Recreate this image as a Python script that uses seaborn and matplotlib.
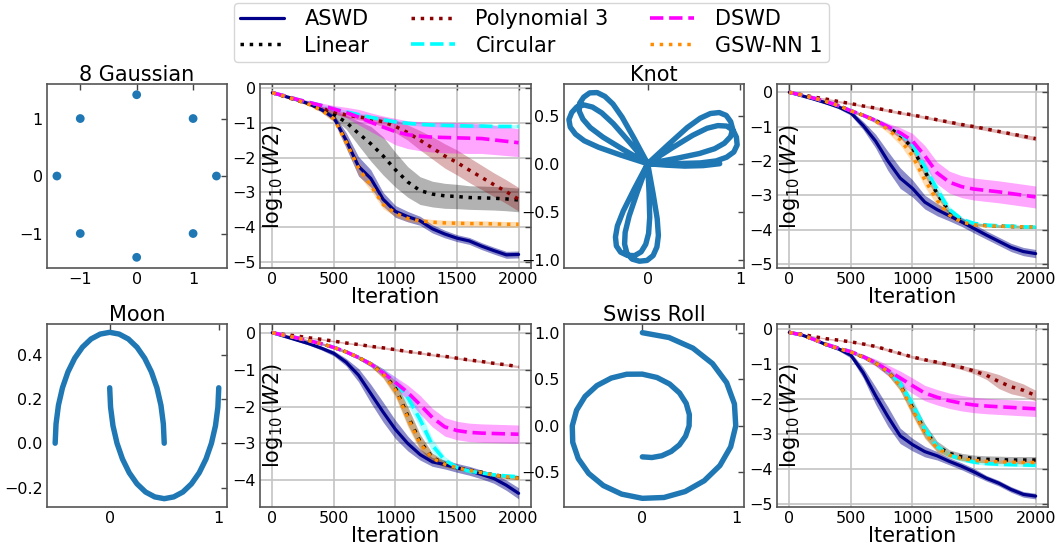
import matplotlib
matplotlib.use("Agg")
import matplotlib.pyplot as plt
from matplotlib.lines import Line2D
import seaborn as sns


# ---------------- data ----------------
iters = list(range(0, 2001, 100))

methods = ["ASWD", "Linear", "Polynomial 3", "Circular", "DSWD", "GSW-NN 1"]

# 8 Gaussian: log10(W2) means and band half-widths
g_aswd = [-0.13, -0.23, -0.33, -0.45, -0.62, -0.85, -1.5, -2.25, -2.6, -3.2, -3.55, -3.7, -3.82, -4.05, -4.2, -4.32, -4.4, -4.55, -4.68, -4.8, -4.79]
g_lin = [-0.13, -0.23, -0.33, -0.45, -0.59, -0.76, -0.98, -1.3, -1.6, -1.95, -2.35, -2.7, -2.95, -3.05, -3.1, -3.12, -3.15, -3.16, -3.17, -3.19, -3.22]
g_poly = [-0.13, -0.24, -0.35, -0.46, -0.57, -0.68, -0.77, -0.83, -0.88, -0.97, -1.1, -1.28, -1.5, -1.72, -1.95, -2.14, -2.36, -2.57, -2.78, -2.98, -3.2]
g_circ = [-0.13, -0.22, -0.32, -0.41, -0.5, -0.6, -0.68, -0.76, -0.84, -0.91, -0.97, -1.01, -1.04, -1.06, -1.07, -1.08, -1.09, -1.09, -1.1, -1.1, -1.1]
g_dswd = [-0.13, -0.22, -0.32, -0.41, -0.5, -0.6, -0.7, -0.83, -0.98, -1.12, -1.25, -1.34, -1.38, -1.41, -1.42, -1.43, -1.44, -1.45, -1.49, -1.53, -1.57]
g_gsw = [-0.13, -0.23, -0.34, -0.47, -0.64, -0.88, -1.55, -2.3, -2.8, -3.35, -3.6, -3.75, -3.82, -3.86, -3.88, -3.89, -3.9, -3.9, -3.91, -3.92, -3.92]
g_aswd_sd = [0.02, 0.03, 0.03, 0.04, 0.06, 0.1, 0.22, 0.28, 0.25, 0.2, 0.17, 0.15, 0.13, 0.12, 0.11, 0.1, 0.1, 0.1, 0.1, 0.1, 0.1]
g_lin_sd = [0.02, 0.03, 0.04, 0.05, 0.07, 0.12, 0.2, 0.35, 0.5, 0.55, 0.5, 0.44, 0.4, 0.37, 0.36, 0.35, 0.34, 0.34, 0.34, 0.34, 0.34]
g_poly_sd = [0.02, 0.03, 0.03, 0.04, 0.05, 0.06, 0.07, 0.08, 0.1, 0.14, 0.18, 0.22, 0.28, 0.32, 0.35, 0.36, 0.36, 0.35, 0.34, 0.34, 0.34]
g_circ_sd = [0.02, 0.02, 0.03, 0.03, 0.03, 0.04, 0.04, 0.05, 0.05, 0.05, 0.05, 0.05, 0.05, 0.05, 0.05, 0.05, 0.05, 0.05, 0.05, 0.05, 0.05]
g_dswd_sd = [0.02, 0.03, 0.04, 0.05, 0.07, 0.1, 0.15, 0.22, 0.27, 0.32, 0.38, 0.4, 0.42, 0.43, 0.44, 0.44, 0.44, 0.43, 0.42, 0.41, 0.4]
g_gsw_sd = [0.02, 0.03, 0.03, 0.04, 0.06, 0.1, 0.18, 0.2, 0.15, 0.12, 0.1, 0.09, 0.08, 0.08, 0.08, 0.08, 0.08, 0.08, 0.08, 0.08, 0.08]

# Knot
k_aswd = [0.0, -0.1, -0.2, -0.31, -0.43, -0.6, -0.97, -1.42, -2.0, -2.5, -2.8, -3.2, -3.42, -3.6, -3.78, -3.97, -4.16, -4.34, -4.52, -4.64, -4.7]
k_lin = [0.0, -0.08, -0.17, -0.27, -0.39, -0.54, -0.67, -0.82, -1.02, -1.25, -1.62, -2.3, -2.95, -3.48, -3.73, -3.84, -3.88, -3.9, -3.91, -3.92, -3.93]
k_poly = [0.0, -0.07, -0.14, -0.2, -0.27, -0.33, -0.4, -0.46, -0.53, -0.6, -0.66, -0.73, -0.8, -0.87, -0.94, -1.0, -1.07, -1.14, -1.21, -1.28, -1.35]
k_circ = [0.0, -0.08, -0.17, -0.27, -0.39, -0.54, -0.67, -0.82, -1.0, -1.2, -1.53, -2.17, -2.83, -3.42, -3.7, -3.82, -3.87, -3.89, -3.9, -3.92, -3.93]
k_dswd = [0.0, -0.08, -0.17, -0.27, -0.39, -0.54, -0.67, -0.82, -1.0, -1.18, -1.42, -1.85, -2.35, -2.62, -2.75, -2.82, -2.86, -2.9, -2.95, -3.0, -3.05]
k_gsw = [0.0, -0.08, -0.17, -0.27, -0.39, -0.54, -0.67, -0.84, -1.08, -1.38, -1.85, -2.55, -3.15, -3.58, -3.78, -3.86, -3.89, -3.9, -3.91, -3.92, -3.93]
k_aswd_sd = [0.01, 0.02, 0.03, 0.04, 0.05, 0.07, 0.12, 0.2, 0.28, 0.3, 0.25, 0.2, 0.18, 0.15, 0.13, 0.13, 0.12, 0.12, 0.12, 0.12, 0.12]
k_lin_sd = [0.01, 0.01, 0.02, 0.02, 0.03, 0.03, 0.04, 0.05, 0.06, 0.08, 0.12, 0.15, 0.12, 0.08, 0.05, 0.04, 0.04, 0.04, 0.04, 0.04, 0.04]
k_poly_sd = [0.01, 0.02, 0.02, 0.03, 0.03, 0.03, 0.03, 0.04, 0.04, 0.04, 0.04, 0.04, 0.04, 0.05, 0.05, 0.05, 0.05, 0.05, 0.05, 0.06, 0.06]
k_circ_sd = [0.01, 0.01, 0.02, 0.02, 0.03, 0.03, 0.04, 0.05, 0.06, 0.08, 0.12, 0.15, 0.15, 0.1, 0.06, 0.04, 0.04, 0.04, 0.04, 0.04, 0.04]
k_dswd_sd = [0.01, 0.02, 0.02, 0.03, 0.03, 0.04, 0.05, 0.07, 0.1, 0.15, 0.22, 0.3, 0.32, 0.32, 0.32, 0.32, 0.32, 0.32, 0.32, 0.32, 0.32]
k_gsw_sd = [0.01, 0.01, 0.02, 0.02, 0.03, 0.03, 0.04, 0.06, 0.1, 0.15, 0.2, 0.2, 0.15, 0.1, 0.06, 0.05, 0.04, 0.04, 0.04, 0.04, 0.04]

# Moon
m_aswd = [0.0, -0.1, -0.2, -0.3, -0.42, -0.56, -0.8, -1.15, -1.65, -2.15, -2.62, -3.0, -3.3, -3.5, -3.57, -3.66, -3.74, -3.84, -3.95, -4.13, -4.35]
m_lin = [0.0, -0.07, -0.14, -0.22, -0.3, -0.4, -0.52, -0.67, -0.85, -1.1, -1.5, -2.25, -2.95, -3.38, -3.55, -3.65, -3.72, -3.78, -3.85, -3.9, -3.93]
m_poly = [0.0, -0.05, -0.09, -0.14, -0.18, -0.23, -0.28, -0.32, -0.37, -0.41, -0.46, -0.51, -0.55, -0.6, -0.64, -0.69, -0.74, -0.78, -0.83, -0.87, -0.92]
m_circ = [0.0, -0.07, -0.14, -0.22, -0.3, -0.4, -0.52, -0.67, -0.85, -1.07, -1.35, -1.75, -2.35, -3.05, -3.45, -3.65, -3.75, -3.8, -3.85, -3.88, -3.9]
m_dswd = [0.0, -0.07, -0.14, -0.22, -0.3, -0.4, -0.52, -0.67, -0.85, -1.08, -1.35, -1.62, -1.95, -2.3, -2.55, -2.65, -2.7, -2.72, -2.73, -2.74, -2.75]
m_gsw = [0.0, -0.07, -0.14, -0.22, -0.3, -0.4, -0.52, -0.67, -0.85, -1.12, -1.55, -2.3, -3.0, -3.4, -3.56, -3.66, -3.73, -3.79, -3.86, -3.9, -3.94]
m_aswd_sd = [0.01, 0.02, 0.03, 0.04, 0.05, 0.07, 0.1, 0.18, 0.25, 0.27, 0.25, 0.2, 0.15, 0.12, 0.12, 0.12, 0.12, 0.12, 0.13, 0.14, 0.15]
m_lin_sd = [0.01, 0.01, 0.02, 0.02, 0.03, 0.03, 0.04, 0.05, 0.07, 0.12, 0.2, 0.25, 0.2, 0.12, 0.08, 0.06, 0.05, 0.05, 0.05, 0.05, 0.05]
m_poly_sd = [0.01, 0.01, 0.01, 0.02, 0.02, 0.02, 0.02, 0.02, 0.03, 0.03, 0.03, 0.03, 0.03, 0.03, 0.03, 0.03, 0.03, 0.03, 0.03, 0.03, 0.03]
m_circ_sd = [0.01, 0.01, 0.02, 0.02, 0.03, 0.03, 0.04, 0.05, 0.07, 0.1, 0.15, 0.2, 0.22, 0.18, 0.1, 0.06, 0.05, 0.05, 0.05, 0.05, 0.05]
m_dswd_sd = [0.01, 0.01, 0.02, 0.02, 0.03, 0.03, 0.04, 0.05, 0.07, 0.1, 0.15, 0.2, 0.25, 0.25, 0.25, 0.25, 0.25, 0.25, 0.25, 0.25, 0.25]
m_gsw_sd = [0.01, 0.01, 0.02, 0.02, 0.03, 0.03, 0.04, 0.05, 0.07, 0.12, 0.2, 0.25, 0.2, 0.12, 0.08, 0.06, 0.05, 0.05, 0.05, 0.05, 0.05]

# Swiss Roll
s_aswd = [-0.1, -0.17, -0.3, -0.45, -0.57, -0.75, -1.25, -1.9, -2.5, -3.05, -3.3, -3.5, -3.62, -3.78, -3.92, -4.08, -4.26, -4.4, -4.58, -4.72, -4.77]
s_lin = [-0.1, -0.17, -0.3, -0.45, -0.56, -0.66, -0.8, -0.97, -1.22, -1.6, -2.25, -2.9, -3.35, -3.55, -3.65, -3.7, -3.72, -3.73, -3.74, -3.74, -3.74]
s_poly = [-0.1, -0.15, -0.22, -0.28, -0.32, -0.37, -0.43, -0.5, -0.6, -0.7, -0.8, -0.88, -0.95, -1.02, -1.1, -1.2, -1.32, -1.5, -1.65, -1.75, -1.9]
s_circ = [-0.1, -0.17, -0.3, -0.44, -0.55, -0.65, -0.79, -0.96, -1.2, -1.55, -2.15, -2.85, -3.35, -3.6, -3.72, -3.8, -3.84, -3.86, -3.87, -3.88, -3.89]
s_dswd = [-0.1, -0.17, -0.3, -0.44, -0.55, -0.65, -0.79, -0.96, -1.18, -1.4, -1.62, -1.83, -1.95, -2.05, -2.12, -2.17, -2.2, -2.22, -2.24, -2.26, -2.28]
s_gsw = [-0.1, -0.17, -0.3, -0.45, -0.56, -0.66, -0.8, -0.97, -1.22, -1.62, -2.3, -2.95, -3.4, -3.6, -3.7, -3.75, -3.78, -3.79, -3.8, -3.81, -3.81]
s_aswd_sd = [0.01, 0.02, 0.03, 0.04, 0.05, 0.08, 0.15, 0.25, 0.28, 0.22, 0.18, 0.15, 0.12, 0.1, 0.1, 0.1, 0.08, 0.08, 0.08, 0.08, 0.08]
s_lin_sd = [0.01, 0.01, 0.02, 0.02, 0.03, 0.04, 0.05, 0.07, 0.1, 0.15, 0.2, 0.2, 0.15, 0.1, 0.1, 0.1, 0.1, 0.1, 0.1, 0.1, 0.1]
s_poly_sd = [0.01, 0.01, 0.02, 0.02, 0.02, 0.02, 0.03, 0.03, 0.04, 0.04, 0.04, 0.04, 0.05, 0.05, 0.06, 0.08, 0.12, 0.2, 0.2, 0.18, 0.15]
s_circ_sd = [0.01, 0.01, 0.02, 0.02, 0.03, 0.04, 0.05, 0.07, 0.1, 0.15, 0.18, 0.15, 0.1, 0.08, 0.06, 0.05, 0.05, 0.05, 0.05, 0.05, 0.05]
s_dswd_sd = [0.01, 0.01, 0.02, 0.02, 0.03, 0.04, 0.06, 0.1, 0.15, 0.2, 0.22, 0.22, 0.22, 0.22, 0.22, 0.22, 0.22, 0.22, 0.22, 0.22, 0.22]
s_gsw_sd = [0.01, 0.01, 0.02, 0.02, 0.03, 0.04, 0.05, 0.07, 0.1, 0.15, 0.2, 0.18, 0.12, 0.08, 0.06, 0.05, 0.05, 0.05, 0.05, 0.05, 0.05]

# target distributions
gauss_x = [1.414, 1, 0, -1, -1.414, -1, 0, 1]
gauss_y = [0, 1, 1.414, 1, 0, -1, -1.414, -1]

knot_x = [0, 0.233, 0.428, 0.569, 0.680, 0.775, 0.851, 0.899, 0.921, 0.897, 0.830, 0.725, 0.560, 0.307, 0,
          -0.292, -0.532, -0.687, -0.782, -0.839, -0.853, -0.822, -0.767, -0.689, -0.598, -0.497, -0.372, -0.202, 0,
          0.059, 0.103, 0.116, 0.100, 0.059, -0.007, -0.089, -0.169, -0.225, -0.250, -0.244, -0.201, -0.113, 0,
          0.265, 0.488, 0.643, 0.760, 0.855, 0.925, 0.961, 0.969, 0.933, 0.854, 0.741, 0.570, 0.311, 0,
          -0.267, -0.485, -0.622, -0.701, -0.741, -0.738, -0.693, -0.628, -0.547, -0.463, -0.376, -0.277, -0.149, 0,
          0.015, 0.022, 0.010, -0.021, -0.071, -0.141, -0.221, -0.293, -0.339, -0.349, -0.328, -0.264, -0.147, 0,
          0.2, 0.4, 0.6, 0.78]
knot_y = [0, 0.207, 0.376, 0.474, 0.523, 0.533, 0.503, 0.438, 0.359, 0.281, 0.213, 0.156, 0.106, 0.055, 0,
          0.090, 0.171, 0.239, 0.308, 0.382, 0.460, 0.534, 0.592, 0.612, 0.590, 0.529, 0.417, 0.230, 0,
          -0.313, -0.572, -0.748, -0.868, -0.957, -1.008, -1.016, -0.994, -0.933, -0.838, -0.716, -0.546, -0.297, 0,
          0.165, 0.296, 0.369, 0.397, 0.392, 0.349, 0.276, 0.195, 0.122, 0.067, 0.029, 0.008, 0.001, 0,
          0.149, 0.277, 0.376, 0.463, 0.547, 0.628, 0.693, 0.738, 0.741, 0.701, 0.622, 0.485, 0.267, 0,
          -0.305, -0.558, -0.726, -0.840, -0.919, -0.958, -0.955, -0.922, -0.857, -0.764, -0.648, -0.492, -0.267, 0,
          -0.015, -0.025, -0.02, 0.0]

moon_outer_x = [-0.5, -0.492, -0.47, -0.433, -0.383, -0.321, -0.25, -0.171, -0.087, 0, 0.087, 0.171, 0.25, 0.321, 0.383, 0.433, 0.47, 0.492, 0.5]
moon_outer_y = [0, 0.087, 0.171, 0.25, 0.321, 0.383, 0.433, 0.47, 0.492, 0.5, 0.492, 0.47, 0.433, 0.383, 0.321, 0.25, 0.171, 0.087, 0]
moon_inner_x = [0, 0.008, 0.03, 0.067, 0.117, 0.179, 0.25, 0.329, 0.413, 0.5, 0.587, 0.671, 0.75, 0.821, 0.883, 0.933, 0.97, 0.992, 1.0]
moon_inner_y = [0.25, 0.163, 0.079, 0, -0.071, -0.133, -0.183, -0.22, -0.242, -0.25, -0.242, -0.22, -0.183, -0.133, -0.071, 0, 0.079, 0.163, 0.25]

swiss_x = [0, 0.102, 0.208, 0.308, 0.396, 0.462, 0.499, 0.502, 0.468, 0.397, 0.291, 0.156, 0,
           -0.167, -0.332, -0.485, -0.612, -0.702, -0.748, -0.743, -0.684, -0.573, -0.416, -0.221, 0,
           0.231, 0.457, 0.661, 0.828, 0.943, 0.997, 0.983, 0.900, 0.749, 0.540, 0.285, 0]
swiss_y = [-0.333, -0.340, -0.321, -0.275, -0.204, -0.110, 0, 0.120, 0.241, 0.353, 0.449, 0.519, 0.555,
           0.554, 0.513, 0.432, 0.315, 0.168, 0, -0.177, -0.352, -0.511, -0.641, -0.733, -0.778,
           -0.769, -0.705, -0.589, -0.426, -0.225, 0, 0.235, 0.463, 0.668, 0.834, 0.948, 1.0]


# ---------------- style ----------------
sns.set_style("white")
plt.rcParams["font.family"] = ["DejaVu Sans"]
plt.rcParams["mathtext.fontset"] = "dejavusans"
plt.rcParams["text.color"] = "black"
plt.rcParams["axes.labelcolor"] = "black"
plt.rcParams["xtick.labelcolor"] = "black"
plt.rcParams["ytick.labelcolor"] = "black"

colors = ["darkblue", "black", "darkred", "cyan", "magenta", "darkorange"]
styles = ["-", ":", ":", "--", "--", ":"]
widths = [2.3, 2.5, 2.5, 2.6, 2.6, 2.5]
band_alpha = [0.45, 0.3, 0.3, 0.3, 0.35, 0.3]
dot_blue = "#1f77b4"
spine_col = "#555555"

fig = plt.figure(figsize=(10.58, 5.5), dpi=100)

row_top = (0.5127, 0.3345)
row_bot = (0.0782, 0.3327)
col_pos = [(0.0444, 0.1701), (0.2457, 0.2561), (0.5331, 0.1701), (0.7344, 0.2561)]


def make_ax(col, row):
    ax = fig.add_axes([col_pos[col][0], row[0], col_pos[col][1], row[1]])
    for s in ax.spines.values():
        s.set_visible(True)
        s.set_color(spine_col)
        s.set_linewidth(1.2)
    ax.tick_params(direction="in", length=4, width=1, color="#444444",
                   labelcolor="black", labelsize=11.5, pad=3, top=True, right=True)
    return ax


def shape_panel(ax, title, xlim, ylim, xticks, yticks):
    ax.set_xlim(*xlim)
    ax.set_ylim(*ylim)
    ax.set_xticks(xticks)
    ax.set_yticks(yticks)
    ax.set_title(title, fontsize=15, pad=2, color="black")
    ax.set_xlabel("")
    ax.set_ylabel("")


def curve_panel(ax, means, bands, ylim, yticks):
    for vals, sd, col, a in zip(means, bands, colors, band_alpha):
        lo = [v - s for v, s in zip(vals, sd)]
        hi = [v + s for v, s in zip(vals, sd)]
        ax.fill_between(iters, lo, hi, color=col, alpha=a, lw=0)
    for vals, col, ls, lw in zip(means, colors, styles, widths):
        sns.lineplot(x=iters, y=vals, ax=ax, color=col, linestyle=ls, linewidth=lw)
    ax.grid(True, color="#c4c4c4", lw=1.2)
    ax.set_axisbelow(True)
    ax.set_xlim(-100, 2100)
    ax.set_ylim(*ylim)
    ax.set_xticks([0, 500, 1000, 1500, 2000])
    ax.set_yticks(yticks)
    ax.set_xlabel("Iteration", fontsize=15, labelpad=0, color="black")
    ax.set_ylabel(r"$\log_{10}(W2)$", fontsize=15, color="black")
    ax.yaxis.set_label_coords(0.092, 0.5)


def shape_line(ax, xs, ys):
    sns.lineplot(x=xs, y=ys, ax=ax, sort=False, estimator=None, color=dot_blue,
                 linewidth=3.9, solid_joinstyle="round", solid_capstyle="round")


# 8 Gaussian
ax = make_ax(0, row_top)
sns.scatterplot(x=gauss_x, y=gauss_y, ax=ax, color=dot_blue, s=40, edgecolor="none")
shape_panel(ax, "8 Gaussian", (-1.59, 1.6), (-1.6, 1.6), [-1, 0, 1], [-1, 0, 1])

ax = make_ax(1, row_top)
curve_panel(ax, [g_aswd, g_lin, g_poly, g_circ, g_dswd, g_gsw],
            [g_aswd_sd, g_lin_sd, g_poly_sd, g_circ_sd, g_dswd_sd, g_gsw_sd],
            (-5.18, 0.12), [-5, -4, -3, -2, -1, 0])

# Knot
ax = make_ax(2, row_top)
shape_line(ax, knot_x, knot_y)
shape_panel(ax, "Knot", (-0.906, 1.043), (-1.087, 0.83), [0, 1], [-1.0, -0.5, 0.0, 0.5])

ax = make_ax(3, row_top)
curve_panel(ax, [k_aswd, k_lin, k_poly, k_circ, k_dswd, k_gsw],
            [k_aswd_sd, k_lin_sd, k_poly_sd, k_circ_sd, k_dswd_sd, k_gsw_sd],
            (-5.12, 0.24), [-5, -4, -3, -2, -1, 0])

# Moon
ax = make_ax(0, row_bot)
shape_line(ax, moon_outer_x, moon_outer_y)
shape_line(ax, moon_inner_x, moon_inner_y)
shape_panel(ax, "Moon", (-0.575, 1.075), (-0.2875, 0.5375), [0, 1], [-0.2, 0.0, 0.2, 0.4])

ax = make_ax(1, row_bot)
curve_panel(ax, [m_aswd, m_lin, m_poly, m_circ, m_dswd, m_gsw],
            [m_aswd_sd, m_lin_sd, m_poly_sd, m_circ_sd, m_dswd_sd, m_gsw_sd],
            (-4.72, 0.235), [-4, -3, -2, -1, 0])

# Swiss Roll
ax = make_ax(2, row_bot)
shape_line(ax, swiss_x, swiss_y)
shape_panel(ax, "Swiss Roll", (-0.836, 1.085), (-0.871, 1.093), [0, 1], [-0.5, 0.0, 0.5, 1.0])

ax = make_ax(3, row_bot)
curve_panel(ax, [s_aswd, s_lin, s_poly, s_circ, s_dswd, s_gsw],
            [s_aswd_sd, s_lin_sd, s_poly_sd, s_circ_sd, s_dswd_sd, s_gsw_sd],
            (-5.08, 0.14), [-5, -4, -3, -2, -1, 0])

# shared legend on top
handles = [Line2D([], [], color=c, linestyle=ls, linewidth=lw)
           for c, ls, lw in zip(colors, styles, widths)]
fig.legend(handles, methods, loc="upper center", bbox_to_anchor=(0.502, 1.0),
           ncol=3, fontsize=15, frameon=True, fancybox=True, edgecolor="#cccccc",
           borderaxespad=0.15, borderpad=0.3, labelspacing=0.3, handlelength=2.1,
           handletextpad=1.0, columnspacing=2.0)

fig.savefig("out.png", dpi=100)
